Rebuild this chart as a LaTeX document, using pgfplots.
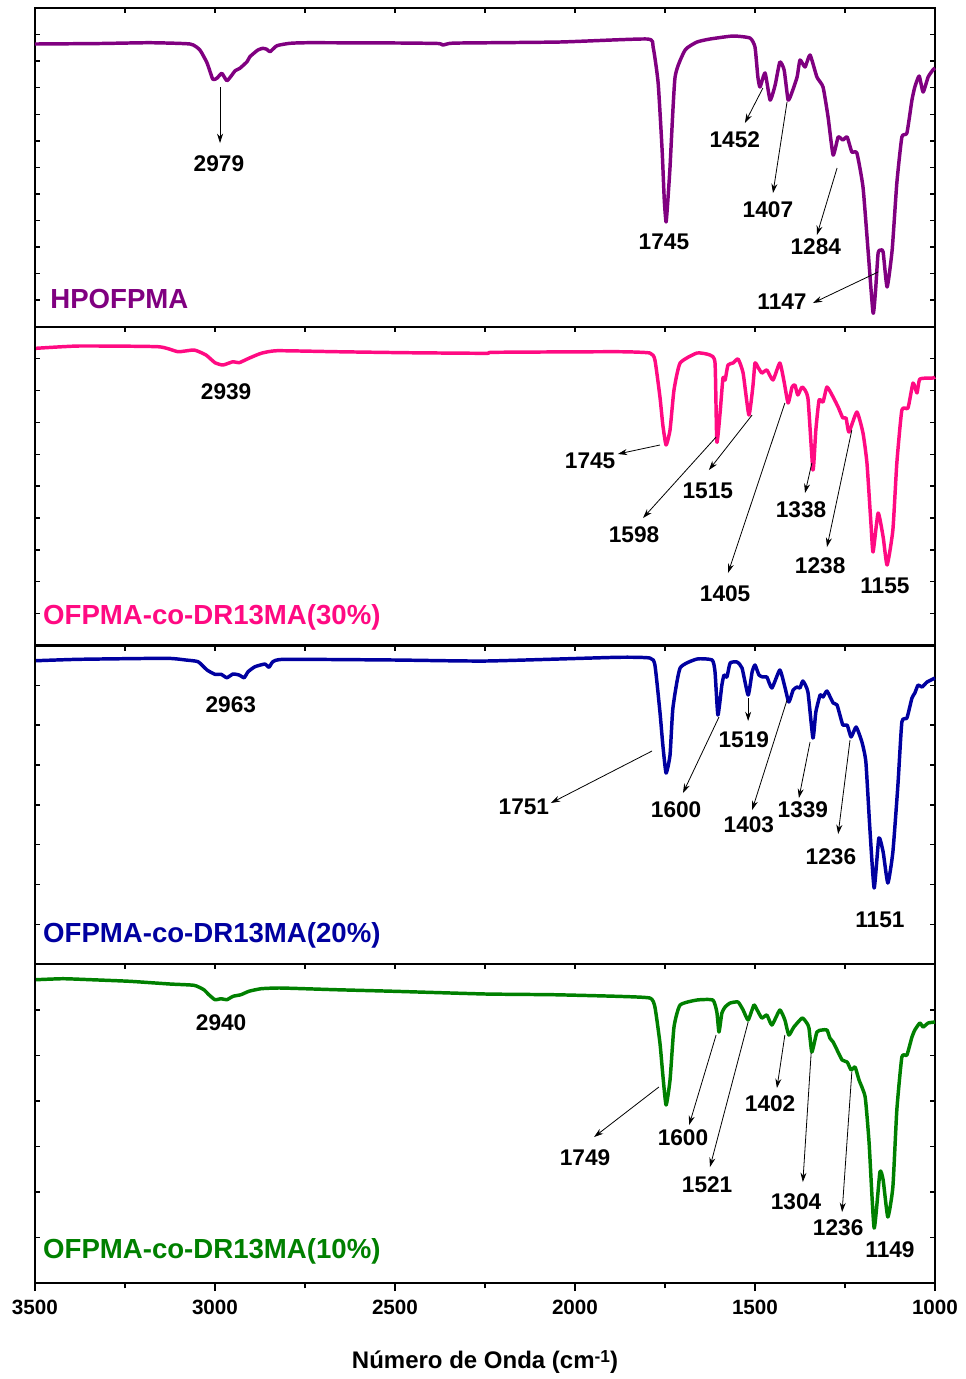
\documentclass[border=0pt]{standalone}
\usepackage{pgfplots}
\pgfplotsset{compat=1.18}
\usepackage{fontspec}
\setmainfont{Liberation Sans}
\usetikzlibrary{arrows.meta}
\definecolor{cpur}{RGB}{128,0,128}
\definecolor{cpink}{RGB}{255,10,130}
\definecolor{cblue}{RGB}{0,0,160}
\definecolor{cgreen}{RGB}{0,128,0}
\newcommand{\lbl}{\fontsize{17}{18}\selectfont\bfseries}
\newcommand{\nam}{\fontsize{20.7}{22}\selectfont\bfseries}
\pgfplotsset{
  panel/.style={width=675pt, height=239.0625pt, scale only axis,
    xmin=1000, xmax=3500, x dir=reverse, y dir=reverse, clip=false,
    axis line style={line width=1.6pt},
    xtick={1000,1500,2000,2500,3000,3500},
    minor xtick={1250,1750,2250,2750,3250},
    xticklabels={}, xtick pos=right, ytick pos=both, yticklabels={},
    tick align=inside, major tick length=3.75pt, minor tick length=3.75pt,
    tick style={line width=1.1pt, black}},
  spec/.style={line width=2.6pt, line join=round, mark=none, smooth, tension=0.3}
}
\tikzset{ann/.style={-{Stealth[length=7pt,width=4.5pt]}, line width=0.6pt, black}}
\begin{document}
\begin{tikzpicture}
\useasboundingbox (0,0) rectangle (723.75pt,-1034.25pt);
% Panel 1
\begin{axis}[panel, at={(26.25pt,-6pt)}, anchor=north west, ymin=8, ymax=326.75,
  ytick={34.5625,61.125,...,301}]
\addplot[spec, cpur] coordinates {(3500,44)(3319,43.5)(3181,42.7)(3069,44)(3042,50)(3022,63)(3006,79.3)(2994,78)(2981,73.3)(2967,80.7)(2953,75)(2944,70.7)(2931,68.3)(2911,61.7)(2903,56.7)(2881,50)(2867,48.3)(2856,49.3)(2847,51.7)(2828,45.7)(2792,43.3)(2736,42.7)(2486,43)(2380,43.5)(2367,45)(2350,43.5)(2319,43)(2042,42)(1800,39)(1783,47)(1769,83)(1758,150)(1752,200)(1747,222)(1742,200)(1736,167)(1722,77)(1694,50)(1661,42)(1625,39)(1561,36)(1514,38)(1500,47)(1492,77)(1486,87)(1472,73)(1458,100)(1444,85)(1431,62)(1419,70)(1408,100)(1397,92)(1383,77)(1375,60)(1361,67)(1347,55)(1328,77)(1311,87)(1297,117)(1283,155)(1269,137)(1256,140)(1244,137)(1231,152)(1217,153)(1200,187)(1186,250)(1172,313)(1165,290)(1158,253)(1150,250)(1144,252)(1133,287)(1119,250)(1106,183)(1092,137)(1078,133)(1064,100)(1056,87)(1044,76)(1033,92)(1019,77)(1006,70)(1000,68)};
\draw[ann] (axis cs:2986,87) -- (axis cs:2986,143);
\node[font=\lbl] at (axis cs:2989,164) {2979};
\node[font=\lbl] at (axis cs:1753,242) {1745};
\draw[ann] (axis cs:1478,88) -- (axis cs:1528,123);
\node[font=\lbl] at (axis cs:1556,140) {1452};
\draw[ann] (axis cs:1411,102) -- (axis cs:1450,193);
\node[font=\lbl] at (axis cs:1464,210) {1407};
\draw[ann] (axis cs:1272,168) -- (axis cs:1328,235);
\node[font=\lbl] at (axis cs:1331,247) {1284};
\draw[ann] (axis cs:1158,272) -- (axis cs:1339,303);
\node[font=\lbl] at (axis cs:1425,302) {1147};
\node[font=\nam, text=cpur, anchor=west, inner sep=0pt] at (axis cs:3458,299) {HPOFPMA};
\end{axis}
% Panel 2
\begin{axis}[panel, at={(26.25pt,-245.0625pt)}, anchor=north west, ymin=326.75, ymax=645.5,
  ytick={358.625,390.5,...,614}]
\addplot[spec, cpink] coordinates {(3497,348.3)(3378,346)(3158,346.7)(3103,351.7)(3058,350)(3025,355)(3000,362.7)(2978,365)(2950,361.7)(2933,362.7)(2906,358.3)(2872,353.3)(2828,350.7)(2664,351.7)(2467,352.7)(2247,353.3)(2225,352.3)(1883,351.7)(1792,353)(1778,360)(1764,397)(1756,425)(1747,445)(1736,430)(1725,390)(1708,363)(1661,353)(1625,355)(1611,363)(1606,442)(1597,413)(1589,378)(1583,380)(1575,365)(1561,363)(1547,359)(1533,373)(1517,415)(1506,387)(1500,363)(1492,367)(1481,373)(1467,370)(1450,380)(1431,363)(1419,382)(1408,403)(1397,387)(1389,385)(1381,395)(1369,387)(1353,398)(1339,470)(1331,430)(1322,400)(1311,402)(1300,387)(1283,397)(1269,407)(1256,418)(1247,418)(1239,432)(1217,412)(1200,433)(1189,463)(1178,523)(1172,552)(1158,513)(1144,537)(1133,565)(1117,530)(1106,463)(1092,410)(1075,408)(1061,383)(1050,393)(1042,379)(1006,378)(1000,377)};
\node[font=\lbl] at (axis cs:2969,392) {2939};
\draw[ann] (axis cs:1764,445) -- (axis cs:1881,454);
\node[font=\lbl] at (axis cs:1958,461) {1745};
\draw[ann] (axis cs:1608,437) -- (axis cs:1811,518);
\node[font=\lbl] at (axis cs:1836,535) {1598};
\draw[ann] (axis cs:1508,415) -- (axis cs:1628,470);
\node[font=\lbl] at (axis cs:1631,491) {1515};
\draw[ann] (axis cs:1417,403) -- (axis cs:1575,573);
\node[font=\lbl] at (axis cs:1583,594) {1405};
\draw[ann] (axis cs:1342,463) -- (axis cs:1361,493);
\node[font=\lbl] at (axis cs:1372,510) {1338};
\draw[ann] (axis cs:1231,430) -- (axis cs:1300,547);
\node[font=\lbl] at (axis cs:1319,566) {1238};
\node[font=\lbl] at (axis cs:1139,586) {1155};
\node[font=\nam, text=cpink, anchor=west, inner sep=0pt] at (axis cs:3478,617) {OFPMA-co-DR13MA(30\%)};
\end{axis}
% Panel 3
\begin{axis}[panel, at={(26.25pt,-484.125pt)}, anchor=north west, ymin=645.5, ymax=964.25,
  ytick={685.34,725.18,...,925}]
\addplot[spec, cblue] coordinates {(3497,660.7)(3378,659.3)(3136,658.3)(3081,660)(3047,661.7)(3022,670)(3000,674.3)(2983,674.3)(2967,677.7)(2950,674)(2933,675)(2919,677.7)(2908,671.7)(2889,666.7)(2861,664)(2850,667.3)(2839,661.7)(2806,659.3)(2500,660)(2247,661)(1883,657.3)(1792,658)(1778,665)(1764,712)(1756,745)(1747,773)(1736,755)(1728,708)(1708,668)(1661,659)(1619,660)(1611,672)(1603,715)(1592,685)(1586,675)(1578,677)(1569,663)(1550,662)(1536,668)(1519,695)(1508,672)(1500,665)(1489,675)(1478,677)(1467,677)(1453,688)(1431,670)(1417,687)(1406,702)(1394,690)(1383,687)(1375,688)(1367,681)(1353,692)(1339,738)(1331,712)(1319,695)(1311,697)(1300,691)(1283,703)(1272,705)(1256,725)(1244,725)(1233,737)(1219,727)(1203,742)(1192,762)(1181,828)(1169,888)(1156,838)(1144,852)(1131,883)(1117,852)(1103,785)(1092,722)(1078,718)(1064,698)(1056,693)(1047,685)(1036,687)(1022,682)(1000,678)};
\node[font=\lbl] at (axis cs:2956,705) {2963};
\draw[ann] (axis cs:1786,751) -- (axis cs:2067,803);
\node[font=\lbl] at (axis cs:2142,807) {1751};
\draw[ann] (axis cs:1600,717) -- (axis cs:1700,793);
\node[font=\lbl] at (axis cs:1719,810) {1600};
\draw[ann] (axis cs:1519,698) -- (axis cs:1519,721);
\node[font=\lbl] at (axis cs:1531,740) {1519};
\draw[ann] (axis cs:1411,700) -- (axis cs:1508,810);
\node[font=\lbl] at (axis cs:1517,825) {1403};
\draw[ann] (axis cs:1347,742) -- (axis cs:1378,798);
\node[font=\lbl] at (axis cs:1367,810) {1339};
\draw[ann] (axis cs:1236,740) -- (axis cs:1269,834);
\node[font=\lbl] at (axis cs:1289,857) {1236};
\node[font=\lbl] at (axis cs:1153,920) {1151};
\node[font=\nam, text=cblue, anchor=west, inner sep=0pt] at (axis cs:3478,935) {OFPMA-co-DR13MA(20\%)};
\end{axis}
% Panel 4
\begin{axis}[panel, at={(26.25pt,-723.1875pt)}, anchor=north west, ymin=964.25, ymax=1283,
  ytick={1009.79,1055.33,...,1238}]
\addplot[spec, cgreen] coordinates {(3497,979.7)(3422,978.7)(3344,979.7)(3236,981.3)(3125,984)(3058,985.3)(3031,989.7)(3017,994.7)(3000,999.7)(2983,998.7)(2967,999.7)(2950,996.3)(2928,994.7)(2906,991.3)(2872,988.7)(2817,988)(2664,989.7)(2500,991.3)(2247,994)(2061,994.7)(1883,996.3)(1792,998)(1778,1007)(1764,1043)(1756,1075)(1747,1105)(1736,1080)(1725,1027)(1708,1005)(1661,1000)(1617,1000)(1606,1012)(1600,1032)(1592,1013)(1583,1007)(1569,1003)(1547,1002)(1533,1010)(1519,1020)(1503,1005)(1494,1010)(1481,1018)(1467,1015)(1453,1025)(1431,1010)(1417,1020)(1406,1035)(1392,1027)(1369,1018)(1356,1023)(1350,1028)(1342,1052)(1328,1032)(1314,1030)(1300,1030)(1292,1038)(1283,1042)(1272,1050)(1258,1060)(1244,1062)(1233,1070)(1222,1067)(1211,1080)(1194,1097)(1183,1143)(1169,1228)(1153,1172)(1144,1180)(1131,1217)(1117,1187)(1106,1110)(1092,1057)(1078,1055)(1064,1037)(1056,1030)(1042,1023)(1033,1027)(1019,1023)(1000,1022)};
\node[font=\lbl] at (axis cs:2983,1023) {2940};
\draw[ann] (axis cs:1767,1087) -- (axis cs:1947,1137);
\node[font=\lbl] at (axis cs:1972,1158) {1749};
\draw[ann] (axis cs:1608,1035) -- (axis cs:1683,1125);
\node[font=\lbl] at (axis cs:1700,1138) {1600};
\draw[ann] (axis cs:1519,1022) -- (axis cs:1625,1167);
\node[font=\lbl] at (axis cs:1633,1185) {1521};
\draw[ann] (axis cs:1417,1035) -- (axis cs:1439,1088);
\node[font=\lbl] at (axis cs:1458,1104) {1402};
\draw[ann] (axis cs:1344,1053) -- (axis cs:1367,1182);
\node[font=\lbl] at (axis cs:1386,1202) {1304};
\draw[ann] (axis cs:1231,1072) -- (axis cs:1258,1212);
\node[font=\lbl] at (axis cs:1269,1228) {1236};
\node[font=\lbl] at (axis cs:1125,1250) {1149};
\node[font=\nam, text=cgreen, anchor=west, inner sep=0pt] at (axis cs:3478,1251) {OFPMA-co-DR13MA(10\%)};
\end{axis}
% Bottom axis with labels
\begin{axis}[at={(26.25pt,-723.1875pt)}, anchor=north west, width=675pt, height=239.0625pt, scale only axis,
  xmin=1000, xmax=3500, x dir=reverse, ymin=0, ymax=1, hide y axis,
  axis x line*=bottom, x axis line style={-, line width=1.6pt},
  xtick={1000,1500,2000,2500,3000,3500}, minor xtick={1250,1750,2250,2750,3250},
  xticklabels={1000,1500,2000,2500,3000,3500},
  tick align=outside, major tick length=6pt, minor tick length=4pt,
  tick style={line width=1.1pt, black},
  xticklabel style={font=\fontsize{15.5}{16}\selectfont\bfseries, anchor=center, yshift=-12pt}]
\end{axis}
\node[font=\fontsize{18}{20}\selectfont\bfseries] at (363.75pt,-1021.5pt) {Número de Onda (cm\raisebox{0.55ex}{\fontsize{13}{14}\selectfont -1})};
\end{tikzpicture}
\end{document}
